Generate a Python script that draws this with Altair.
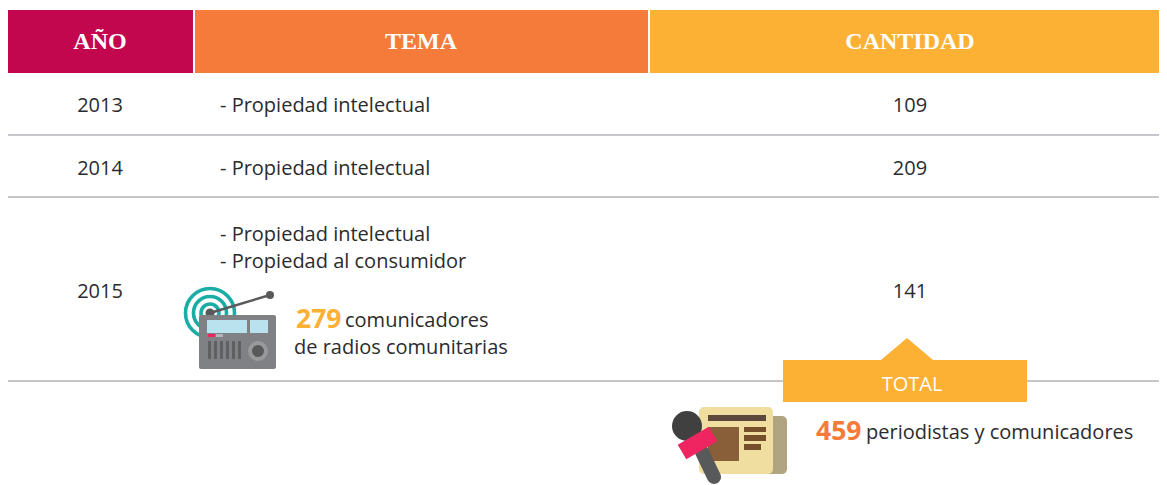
import altair as alt
import pandas as pd

# --- table content ---
headers = ["AÑO", "TEMA", "CANTIDAD"]
header_colors = ["#C2074F", "#F47B3A", "#FCB034"]
header_x0 = [7, 195, 650]
header_x1 = [193, 648, 1167]
header_cx = [100, 421, 910]
years = ["2013", "2014", "2015"]
year_y = [106, 169, 292]
counts = ["109", "209", "141"]
topic_lines = ["- Propiedad intelectual", "- Propiedad intelectual", "- Propiedad intelectual", "- Propiedad al consumidor"]
topic_y = [106, 169, 235, 262]
rule_y = [135, 197, 381]

FONT = "Open Sans"
X = alt.Scale(domain=[8, 1159], range=[0, 1151], nice=False, zero=False)
Y = alt.Scale(domain=[8, 485], range=[0, 477], nice=False, zero=False)


def xq(f, **k):
    return alt.X(f, type="quantitative", scale=X, axis=None, **k)


def yq(f, **k):
    return alt.Y(f, type="quantitative", scale=Y, axis=None, **k)


def rects(items, **mk):
    df = pd.DataFrame(items, columns=["x0", "x1", "y0", "y1", "c"])
    return alt.Chart(df).mark_rect(**mk).encode(
        x=xq("x0"), x2="x1", y=yq("y0"), y2="y1", color=alt.Color("c:N", scale=None))


def texts(items, size, color="#2b2b2d", align="left", font=FONT, weight="normal"):
    df = pd.DataFrame(items, columns=["x", "y", "t"])
    return alt.Chart(df).mark_text(fontSize=size, color=color, align=align, baseline="middle",
                                   font=font, fontWeight=weight).encode(x=xq("x"), y=yq("y"), text="t:N")


def seg(x0, y0, x1, y1, color, w, cap="butt"):
    df = pd.DataFrame({"x0": [x0], "y0": [y0], "x1": [x1], "y1": [y1]})
    return alt.Chart(df).mark_rule(color=color, strokeWidth=w, strokeCap=cap).encode(
        x=xq("x0"), x2="x1", y=yq("y0"), y2="y1")


def dots(xs, ys, d, color):
    df = pd.DataFrame({"x": xs, "y": ys})
    return alt.Chart(df).mark_point(filled=True, opacity=1, color=color, size=d * d, shape="circle").encode(
        x=xq("x"), y=yq("y"))


def ring(cx, cy, r, w, color):
    df = pd.DataFrame({"x": [cx], "y": [cy]})
    return alt.Chart(df).mark_point(filled=False, opacity=1, color=color, strokeWidth=w,
                                    size=(2 * r) ** 2, shape="circle").encode(x=xq("x"), y=yq("y"))


layers = []
layers.append(rects([(a, b, 10, 73, c) for a, b, c in zip(header_x0, header_x1, header_colors)]))
layers.append(texts(list(zip(header_cx, [42] * 3, headers)), 24, "#ffffff", "center", "Liberation Serif", "bold"))
layers += [seg(7, y, 1167, y, "#c6c6ca", 2) for y in rule_y]
layers.append(texts(list(zip([100] * 3, year_y, years)), 20, align="center"))
layers.append(texts(list(zip([910] * 3, year_y, counts)), 20, align="center"))
layers.append(texts(list(zip([220] * 4, topic_y, topic_lines)), 20))

# radio icon
layers += [ring(210, 313, r, 3.6, "#19ADA6") for r in (24.5, 16.5, 9)]
layers.append(seg(210, 313, 270, 295, "#58595B", 2.5))
layers.append(dots([270], [295], 8, "#58595B"))
layers.append(dots([210], [313], 9, "#58595B"))
layers.append(rects([(199, 276, 315, 369, "#808184")], cornerRadius=2))
layers.append(rects([(207, 247, 320, 333, "#B9E2EE"), (250, 268, 320, 333, "#B9E2EE"),
                     (208, 215, 334, 337, "#EE2560"), (216, 223, 334, 337, "#B4B5B7")]))
layers.append(rects([(x, x + 3, 341, 359, "#5F6062") for x in (208, 214, 220, 226, 232, 238)]))
layers.append(dots([258], [351], 20, "#98999B"))
layers.append(dots([258], [351], 12, "#58595B"))

# total badge
tri = pd.DataFrame({"x": [881, 907, 933], "y": [360, 338, 360], "y2": [360, 360, 360]})
layers.append(alt.Chart(tri).mark_area(color="#FCB034", opacity=1).encode(x=xq("x"), y=yq("y"), y2="y2"))
layers.append(rects([(783, 1027, 360, 402, "#FCB034")]))
layers.append(texts([(912, 385, "TOTAL")], 20, "#ffffff", "center"))

# newspaper / microphone icon
layers.append(rects([(745, 787, 416, 474, "#B0A481")], cornerRadius=5))
layers.append(rects([(699, 773, 407, 474, "#F0DDA0")], cornerRadius=5))
layers.append(rects([(708, 766, 415, 421, "#5B4A3C"), (708, 739, 427, 461, "#895F3A"),
                     (744, 766, 427, 432, "#76502B"), (744, 766, 435, 441, "#76502B"), (744, 761, 444, 450, "#76502B")]))
layers.append(seg(702, 452, 714, 477, "#58595B", 14, "round"))
layers.append(dots([687], [426], 30, "#404041"))
layers.append(seg(682, 452, 713, 434, "#EE2560", 17))

# annotations
layers.append(texts([(296, 320, "279")], 26.5, "#FCB034", font="Open Sans", weight="bold"))
layers.append(texts([(345, 321, "comunicadores"), (294, 348, "de radios comunitarias")], 20))
layers.append(texts([(816, 432, "459")], 26.5, "#F47B3A", font="Open Sans", weight="bold"))
layers.append(texts([(866, 433, "periodistas y comunicadores")], 20))

chart = alt.layer(*layers).properties(
    width=1151, height=477, padding=0, autosize=alt.AutoSizeParams(type="none"),
    background="#ffffff").configure_view(stroke=None, clip=False)

chart.save("out.html", embed_options={"renderer": "svg", "actions": False})
